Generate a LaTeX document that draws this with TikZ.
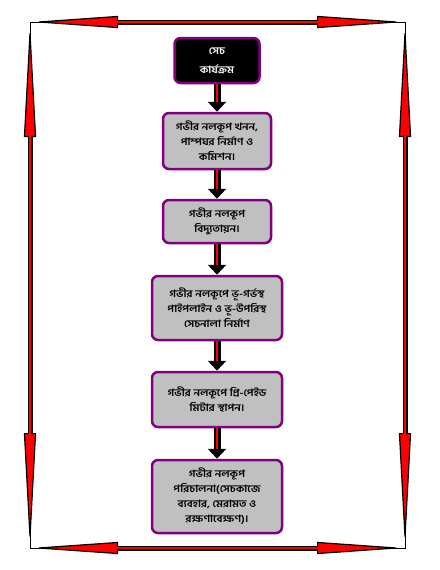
\documentclass[tikz,border=0pt]{standalone}
\usepackage{fontspec}
\usepackage{xcolor}
\usepackage{tikz}
\usetikzlibrary{arrows.meta,calc,positioning}
\newfontfamily\bnfont[Script=Bengali,FakeStretch=1.12]{Hind Siliguri}
\definecolor{boxpurple}{RGB}{128,0,128}
\definecolor{boxgray}{RGB}{192,192,192}
\tikzset{
	stepbox/.style={draw=boxpurple,line width=2.5pt,rounded corners=6pt,fill=boxgray,align=center,inner sep=2pt,font=\bnfont\bfseries\fontsize{10}{15}\selectfont},
	startbox/.style={stepbox,fill=black,text=white,font=\bnfont\bfseries\fontsize{10}{19}\selectfont},
	flowdown/.style={line width=7pt,-{Triangle[length=10pt,width=18pt]}},
	flowcore/.style={red,line width=1.8pt,shorten >=10pt},
	sidearrow/.style={line width=5pt,{Triangle[length=#1,width=12pt,fill=red,line width=1.2pt]}-{Triangle[length=#1,width=12pt,fill=red,line width=1.2pt]}},
	sidecore/.style={red,line width=1.6pt,shorten <=#1,shorten >=#1}
}

\begin{document}
\begin{tikzpicture}[x=1pt,y=-1pt]
	\useasboundingbox (0,0) rectangle (439,570);
	% frame corners
	\coordinate (tl) at (30,22);
	\coordinate (tr) at (405,22);
	\coordinate (bl) at (30,548);
	\coordinate (br) at (405,548);
	\draw[thin] (tl) rectangle (br);
	\draw[sidearrow=88pt] (tl) -- (tr);
	\draw[sidearrow=88pt] (bl) -- (br);
	\draw[sidearrow=115pt] (tl) -- (bl);
	\draw[sidearrow=115pt] (tr) -- (br);
	\draw[sidecore=84pt] (tl) -- (tr);
	\draw[sidecore=84pt] (bl) -- (br);
	\draw[sidecore=111pt] (tl) -- (bl);
	\draw[sidecore=111pt] (tr) -- (br);
	
	\node[startbox,minimum width=85pt,minimum height=45pt] (prog) at (217,60.5) {সেচ\\কার্যক্রম};
	\node[stepbox,minimum width=108pt,minimum height=56pt] (drill) at (217,141) {গভীর নলকূপ খনন,\\পাম্পঘর নির্মাণ ও\\কমিশন।};
	\node[stepbox,minimum width=108pt,minimum height=43pt] (elec) at (217,221.5) {গভীর নলকূপ\\বিদ্যুতায়ন।};
	\node[stepbox,minimum width=130pt,minimum height=64pt] (pipe) at (217,308) {গভীর নলকূপে ভূ-গর্ভস্থ\\পাইপলাইন ও ভূ-উপরিস্থ\\সেচনালা নির্মাণ};
	\node[stepbox,minimum width=130pt,minimum height=55pt] (meter) at (217,399.5) {গভীর নলকূপে প্রি-পেইড\\মিটার স্থাপন।};
	\node[stepbox,minimum width=130pt,minimum height=73pt] (operate) at (217,496.5) {গভীর নলকূপ\\পরিচালনা(সেচকাজে\\ব্যবহার, মেরামত ও\\রক্ষণাবেক্ষণ)।};
	
	\foreach \a/\b in {prog/drill,drill/elec,elec/pipe,pipe/meter,meter/operate} {
		\draw[flowdown] (\a) -- (\b);
		\draw[flowcore] (\a) -- (\b);
	}
\end{tikzpicture}
\end{document}
